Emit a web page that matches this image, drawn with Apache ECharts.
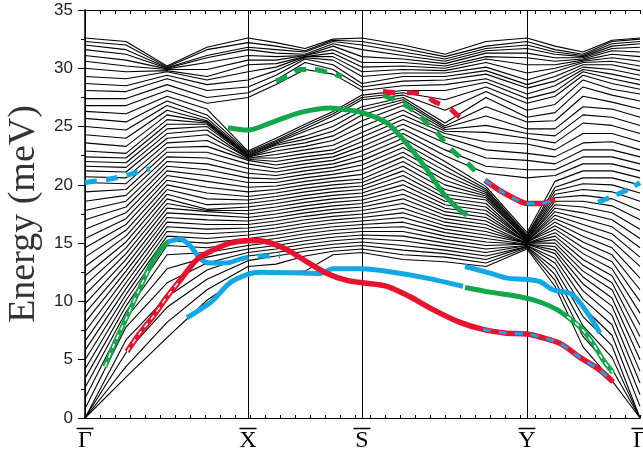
<!DOCTYPE html>
<html>
<head>
<meta charset="utf-8">
<script src="https://cdn.jsdelivr.net/npm/echarts@6/dist/echarts.min.js"></script>
<style>
  html, body { margin: 0; background: #fff; }
  #chart { width: 643px; height: 450px; }
</style>
</head>
<body>
<div id="chart"></div>
<script>
// k-path positions (path length units), high-symmetry points and their labels
const K = [0, 41, 82, 122, 163, 191, 220, 248, 277, 318, 360, 401, 442, 470, 498, 527, 555];
const kTicks = [0, 163, 277, 442, 555];
const kNames = ['Γ', 'X', 'S', 'Y', 'Γ'];
const yTicks = [0, 5, 10, 15, 20, 25, 30, 35];

// band energies (meV) read at each k column, ascending
const eG0 = [0,0,0,0, 0.8,1.7,2.6,3.4,4.2, 5.0,5.8,6.6,7.4,8.2, 9.0,9.8,10.6,11.4,12.2, 13.0,13.8,14.6,15.4,16.2, 17.0,17.8,18.6,19.4,20.2, 20.7,21.2,21.6,22.0,22.4, 22.9,23.6,24.3,25.0,25.7, 26.3, 26.8,27.4,28.1,28.7,29.3, 30.0,30.6,31.1,31.6,32.0, 32.3,32.6];
const e1 = [3.5,4.4,5.6,6.7,7.8, 8.6,9.1,9.6,10.1,10.6, 11.1,11.6,12.1,12.6,13.1, 13.6,14.1,14.6,15.1,15.6, 16.1,16.6,17.1,17.6,18.1, 18.6,19.1,19.6,20.1,20.6, 21.1,21.5,21.9,22.3,22.7, 23.3,24.0,24.7,25.4,26.1, 26.8,27.4,28.0,28.5,29.1, 29.7,30.2,30.7,31.2,31.6, 32.0,32.3];
const e2 = [6.9,8.2,9.5,10.4,11.6, 12.8,14.0,14.8,15.2,15.6, 16.0,16.4,16.8,17.2,17.6, 18.0,18.4,18.8,19.2,19.6, 20.0,20.4,20.8,21.2,21.6, 22.0,22.4,22.8,23.2,23.6, 24.0,24.4,24.8,25.2,25.6, 26.0,26.4,26.8,27.2,27.6, 28.1,28.6,29.1,29.4,29.7, 29.8,29.9,29.95,30.0,30.05, 30.1,30.2];
const e3 = [10.1,11.0,11.9,12.7,13.3, 13.8,14.2,14.6,15.0,15.4, 15.8,16.2,16.6,17.0,17.4, 17.7,17.8,17.9,18.3,18.8, 19.3,19.8,20.3,20.8,21.3, 21.8,22.3,22.8,23.3,23.8, 24.3,24.7,25.0,25.2,25.3, 25.4,25.5,25.7,26.0,26.5, 27.0,27.5,28.1,28.6,29.0, 29.3,29.9,30.5,30.9,31.1, 31.6,31.8];
const eX = [12.5,13.0,13.5,13.9,14.2, 14.5,14.8,15.1,15.4,15.7, 16.0,16.3,16.6,16.9,17.2, 17.5,17.8,18.1,18.4,18.7, 19.0,19.4,19.8,20.2,20.6, 21.0,21.4,21.8,22.1,22.2, 22.3,22.3,22.4,22.4,22.5, 22.5,22.6,22.7,22.8,22.9, 27.5,27.9,28.4,29.0,29.7, 30.3,30.7,31.1,31.6,31.8, 32.2,32.6];
const e5 = [12.5,13.2,13.9,14.2,14.5, 14.8,15.1,15.4,15.7,16.0, 16.3,16.6,16.9,17.2,17.5, 17.8,18.1,18.4,18.7,19.0, 19.3,19.6,19.9,20.2,20.5, 20.8,21.1,21.4,21.7,22.0, 22.3,22.6,22.9,23.2,23.4, 23.5,23.6,23.7,23.8,24.0, 28.6,29.0,29.4,29.8,30.1, 30.4,30.7,31.0,31.3,31.6, 31.9,32.2];
const e6 = [12.6,13.9,14.3,14.6,14.9, 15.2,15.5,15.8,16.1,16.4, 16.7,17.0,17.3,17.6,17.9, 18.2,18.5,18.8,19.1,19.4, 19.7,20.0,20.3,20.6,20.9, 21.2,21.5,21.8,22.1,22.4, 22.7,23.0,23.3,23.6,23.9, 24.2,24.6,24.8,25.0,25.2, 29.9,30.5,30.8,30.9,31.0, 31.0,31.1,31.1,31.2,31.4, 31.5,31.7];
const e7 = [14.0,14.3,14.6,14.9,15.2, 15.5,15.8,16.1,16.4,16.7, 17.0,17.3,17.6,17.9,18.2, 18.5,18.8,19.1,19.4,19.7, 20.0,20.3,20.6,20.9,21.2, 21.5,21.8,22.1,22.4,22.7, 23.0,23.4,23.8,24.2,24.6, 25.0,25.5,25.9,26.1,26.3, 29.5,29.9,30.3,30.7,31.0, 31.3,31.6,31.9,32.1,32.3, 32.4,32.5];
const eS = [14.2,14.5,14.8,15.1,15.4, 15.7,16.0,16.3,16.6,16.9, 17.2,17.5,17.8,18.1,18.4, 18.7,19.0,19.3,19.6,19.9, 20.2,20.5,20.9,21.3,21.7, 22.1,22.5,22.9,23.3,23.7, 24.1,24.5,25.0,25.5,26.0, 26.4,26.7,27.3,27.5,27.7, 28.1,28.4,28.7,29.3,29.7, 30.1,30.5,31.0,31.6,32.0, 32.3,32.6];
const e9 = [13.6,14.0,14.4,14.8,15.2, 15.6,16.0,16.4,16.8,17.2, 17.6,18.0,18.4,18.8,19.2, 19.6,20.0,20.4,20.8,21.2, 21.6,22.0,22.4,22.8,23.2, 23.6,24.0,24.4,24.8,25.2, 25.6,26.0,26.4,26.8,27.1, 27.3,27.5,27.7,27.9,28.1, 28.5,28.9,29.3,29.6,29.9, 30.2,30.5,30.8,31.1,31.4, 31.7,32.0];
const e10 = [13.4,13.8,14.1,14.4,14.7, 15.0,15.3,15.6,15.9,16.2, 16.5,16.8,17.1,17.4,17.7, 18.0,18.3,18.6,18.9,19.2, 19.6,20.0,20.4,20.8,21.2, 21.6,22.0,22.5,23.0,23.6, 24.1,24.4,24.6,24.75,24.9, 25.05,25.3,26.4,27.3,28.1, 28.6,29.0,29.3,29.6,29.8, 30.0,30.2,30.4,30.6,30.8, 31.0,31.2];
const e11 = [13.0,13.3,13.6,13.9,14.2, 14.5,14.8,15.1,15.4,15.7, 16.0,16.3,16.6,16.9,17.2, 17.5,17.8,18.1,18.4,18.7, 18.9,19.05,19.2,19.35,19.5, 19.65,19.85,21.0,21.6,22.3, 23.0,23.7,24.5,25.1,25.9, 26.7,27.5,28.0,28.4,28.8, 29.1,29.5,29.8,30.1,30.5, 30.8,31.0,31.3,31.5,31.7, 31.9,32.3];
const eY = [14.5,14.6,14.7,14.7,14.8, 14.8,14.9,14.9,14.9,15.0, 15.0,15.0,15.0,15.1,15.1, 15.1,15.2,15.2,15.2,15.3, 15.3,15.4,15.4,15.5,15.6, 15.7,15.9, 20.6,21.3,22.1,22.7,23.5, 24.0,24.4,24.8,25.4,25.8, 26.4,27.0,27.4,27.8,28.3, 28.6,29.0,29.6,30.3,30.9, 31.3,31.7,32.0,32.3,32.6];
const e13 = [11.3,11.8,12.3,12.8,13.3, 13.7,14.1,14.4,14.7,15.0, 15.3,15.6,15.9,16.2,16.5, 16.8,17.1,17.4,17.7,18.0, 18.3,18.6,18.9,19.2,19.5, 19.8,20.3,20.8,21.3,21.8, 22.4,23.0,23.6,24.2,24.8, 25.5,26.2,26.9,27.6, 28.0,28.5,28.9,29.3,29.7, 30.0,30.3,30.6,30.9,31.2, 31.4,31.6,31.9];
const e14 = [6.1,7.0,7.9,8.7,9.5, 10.2,10.9,11.5,12.1,12.6, 13.1,13.6,14.1,14.6,15.1, 15.6,16.1,16.6,17.1,17.6, 18.1,18.6,19.1,19.6,20.1, 20.6,21.2,21.8,22.4,23.0, 23.6,24.4,25.3,26.0,26.7, 27.6,28.4,29.0,29.4,29.7, 29.9,30.1,30.3,30.5,30.6, 30.7,30.8,30.9,31.0,31.1, 31.2,31.4];
const e15 = [3.2,4.2,5.2,6.2,7.1, 8.0,8.8,9.6,10.3,11.0, 11.6,12.2,12.8,13.4,14.0, 14.6,15.2,15.8,16.4,17.0, 17.6,18.2,18.8,19.4,20.0, 20.6,21.2,21.8,22.4,23.0, 23.7,24.4,25.1,25.8,26.5, 27.1,27.7,28.2,28.7,29.1, 29.5,29.9,30.3,30.6,30.9, 31.2,31.5,31.7,31.9,32.1, 32.3,32.4];
const eG1 = [0,0,0,0, 1.0,2.0,3.0,4.0,5.0, 6.0,7.0,8.0,9.0,10.0, 11.0,12.0,13.0,13.8,14.6, 15.4,16.2,17.0,17.8,18.6, 19.3,20.0,20.6,21.2,21.8, 22.4,23.0,23.7,24.4,25.1, 25.8,26.5,27.2,27.8,28.2, 28.6,29.0,29.4,29.8,30.2, 30.6,31.0,31.4,31.8,32.1, 32.3,32.5,32.6];

// highlighted modes: [k, meV]
const blueTopLeft = [[0, 20.2], [25, 20.5], [45, 20.9], [65, 21.4]];
const blueTopRight = [[513, 18.5], [530, 19.1], [543, 19.6], [555, 20.2]];
const greenUpper = [[143, 24.9], [163, 24.7], [185, 25.3], [215, 26.2], [245, 26.6], [265, 26.4], [277, 26.2], [302, 25.3], [325, 23.2], [342, 21.3], [358, 19.3], [375, 17.8], [382, 17.4]];
const greenTop = [[191, 28.9], [205, 29.4], [215, 29.9], [228, 29.9], [245, 29.6], [257, 29.3]];
const greenSY = [[298, 27.7], [312, 27.2], [323, 26.7], [335, 25.9], [343, 25.2], [353, 24.4], [362, 23.4], [372, 22.6], [382, 21.9], [390, 21.2]];
const redSY = [[298, 28.0], [312, 27.9], [325, 27.9], [338, 27.8], [350, 27.1], [363, 26.7], [372, 26.0], [382, 25.4]];
const redBlueY = [[400, 20.4], [415, 19.5], [430, 18.8], [442, 18.4], [455, 18.4], [470, 18.7]];
const greenLowGX = [[20, 4.4], [28, 6.1], [42, 8.7], [53, 10.8], [65, 13.0], [75, 14.4], [83, 15.1]];
const blueUpperGX = [[83, 15.1], [95, 15.35], [105, 14.8], [115, 13.7], [125, 13.3], [142, 13.3], [152, 13.55]];
const blueUpperGXDash = [[152, 13.55], [163, 13.8], [175, 13.9], [195, 13.9]];
const redMain = [[42, 5.7], [55, 7.3], [68, 8.7], [82, 10.4], [95, 11.8], [112, 13.6], [128, 14.4], [145, 15.0], [163, 15.2], [175, 15.2], [198, 14.6], [222, 13.4], [242, 12.4], [262, 11.8], [278, 11.6], [302, 11.3], [325, 10.4], [348, 9.3], [375, 8.2], [398, 7.6], [420, 7.3], [442, 7.2], [455, 6.95], [475, 6.4], [495, 5.2], [515, 4.1], [528, 3.1]];
const blueLower = [[102, 8.6], [115, 9.3], [128, 10.1], [145, 11.6], [162, 12.3], [175, 12.5], [235, 12.4], [248, 12.8], [277, 12.8], [308, 12.5], [342, 12.0], [378, 11.3]];
const blueLowerR = [[380, 13.0], [402, 12.5], [422, 12.0], [442, 11.9], [455, 11.7], [468, 11.0], [485, 10.7], [493, 10.1], [505, 8.7], [515, 7.3]];
const greenLowR = [[380, 11.2], [405, 10.8], [435, 10.4], [455, 9.95], [472, 9.3], [482, 8.7], [495, 7.8], [508, 6.4], [518, 5.0], [528, 3.9]];

const RED = '#E5132E';
const GREEN = '#13A64A';
const BLUE = '#12A8E6';

const cols = [eG0, e1, e2, e3, eX, e5, e6, e7, eS, e9, e10, e11, eY, e13, e14, e15, eG1];
const nBands = Math.min(...cols.map(c => c.length));

const series = [];
for (let i = 0; i < nBands; i++) {
  series.push({
    type: 'line',
    data: K.map((k, j) => [k, cols[j][i]]),
    symbol: 'none',
    silent: true,
    z: 2,
    lineStyle: { color: '#000', width: 1.1 }
  });
}

// vertical lines at X, S, Y
series[0].markLine = {
  silent: true,
  symbol: ['none', 'none'],
  label: { show: false },
  lineStyle: { color: '#000', width: 1, type: 'solid' },
  data: kTicks.slice(1, 4).map(v => ({ xAxis: v }))
};

function mode(data, color, width, dash, z, smooth) {
  return {
    type: 'line',
    data: data,
    symbol: 'none',
    silent: true,
    smooth: smooth === undefined ? 0.3 : smooth,
    z: z,
    lineStyle: { color: color, width: width, type: dash || 'solid', cap: 'butt' }
  };
}

series.push(
  mode(blueTopLeft, BLUE, 5, [12, 9], 5),
  mode(blueTopRight, BLUE, 5, [12, 8], 5),
  mode(greenUpper, GREEN, 5, null, 5),
  mode(greenTop, GREEN, 5, [12, 9], 5),
  mode(greenSY, GREEN, 5, [12, 10], 5),
  mode(redSY, RED, 5, [12, 12], 5),
  mode(redBlueY, RED, 5.5, null, 5),
  mode(redBlueY, BLUE, 3, [8, 8], 6),
  mode(blueLower, BLUE, 5, null, 5),
  mode(redMain, RED, 5.5, null, 6),
  mode(redMain.slice(0, 5), '#fff', 1.5, [5, 5], 7),
  mode(redMain.slice(19), BLUE, 3, [8, 8], 7),
  mode(greenLowGX, GREEN, 5, null, 5),
  mode(greenLowGX.slice(0, 5), '#fff', 1.5, [5, 5], 7),
  mode(blueUpperGX, BLUE, 5, null, 5),
  mode(blueUpperGXDash, BLUE, 5, [12, 9], 5),
  mode(blueLowerR, BLUE, 5, null, 5),
  mode(greenLowR, GREEN, 5, null, 5),
  mode(greenLowR.slice(5), '#fff', 1.5, [5, 5], 7)
);

const chart = echarts.init(document.getElementById('chart'), null, { renderer: 'canvas' });

chart.setOption({
  animation: false,
  backgroundColor: '#fff',
  grid: { left: 85, right: 3, top: 10, bottom: 32, containLabel: false, outerBoundsMode: 'none' },
  xAxis: [
    {
      type: 'value', min: 0, max: 555, position: 'bottom',
      axisLine: { lineStyle: { color: '#000', width: 1.2 } },
      axisTick: { show: false },
      splitLine: { show: false },
      axisLabel: {
        customValues: kTicks,
        margin: 8,
        hideOverlap: false,
        formatter: v => '{o|\u00a0}\n{t|' + kNames[kTicks.indexOf(v)] + '}',
        rich: {
          o: { width: 17, height: 1.5, lineHeight: 5, backgroundColor: '#000' },
          t: { fontFamily: 'Liberation Serif', fontSize: 24, color: '#000', lineHeight: 20 }
        }
      }
    },
    {
      type: 'value', min: 0, max: 555, interval: 15, position: 'bottom',
      axisLine: { show: false },
      axisTick: { inside: true, length: 3, lineStyle: { color: '#000' } },
      axisLabel: { show: false },
      splitLine: { show: false }
    },
    {
      type: 'value', min: 0, max: 555, interval: 15, position: 'top',
      axisLine: { lineStyle: { color: '#000', width: 1 } },
      axisTick: { inside: true, length: 4, lineStyle: { color: '#000' } },
      axisLabel: { show: false },
      splitLine: { show: false }
    }
  ],
  yAxis: [
    {
      type: 'value', min: 0, max: 35, interval: 5, position: 'left',
      name: 'Energy (meV)', nameLocation: 'middle', nameGap: 40,
      nameTextStyle: { fontFamily: 'Liberation Serif', fontSize: 38, color: '#333' },
      axisLine: { lineStyle: { color: '#000', width: 1.5 } },
      axisTick: { length: 7, lineStyle: { color: '#000' } },
      minorTick: { show: true, splitNumber: 2, length: 4, lineStyle: { color: '#000' } },
      axisLabel: {
        customValues: yTicks,
        fontFamily: 'Liberation Sans', fontSize: 17, color: '#222', margin: 12
      },
      splitLine: { show: false }
    },
    {
      type: 'value', min: 0, max: 35, interval: 5, position: 'right',
      axisLine: { show: true, lineStyle: { color: '#000', width: 1 } },
      axisTick: { inside: true, length: 5, lineStyle: { color: '#000' } },
      minorTick: { show: true, splitNumber: 2, length: 3, lineStyle: { color: '#000' } },
      axisLabel: { show: false },
      splitLine: { show: false }
    }
  ],
  series: series
});
</script>
</body>
</html>
